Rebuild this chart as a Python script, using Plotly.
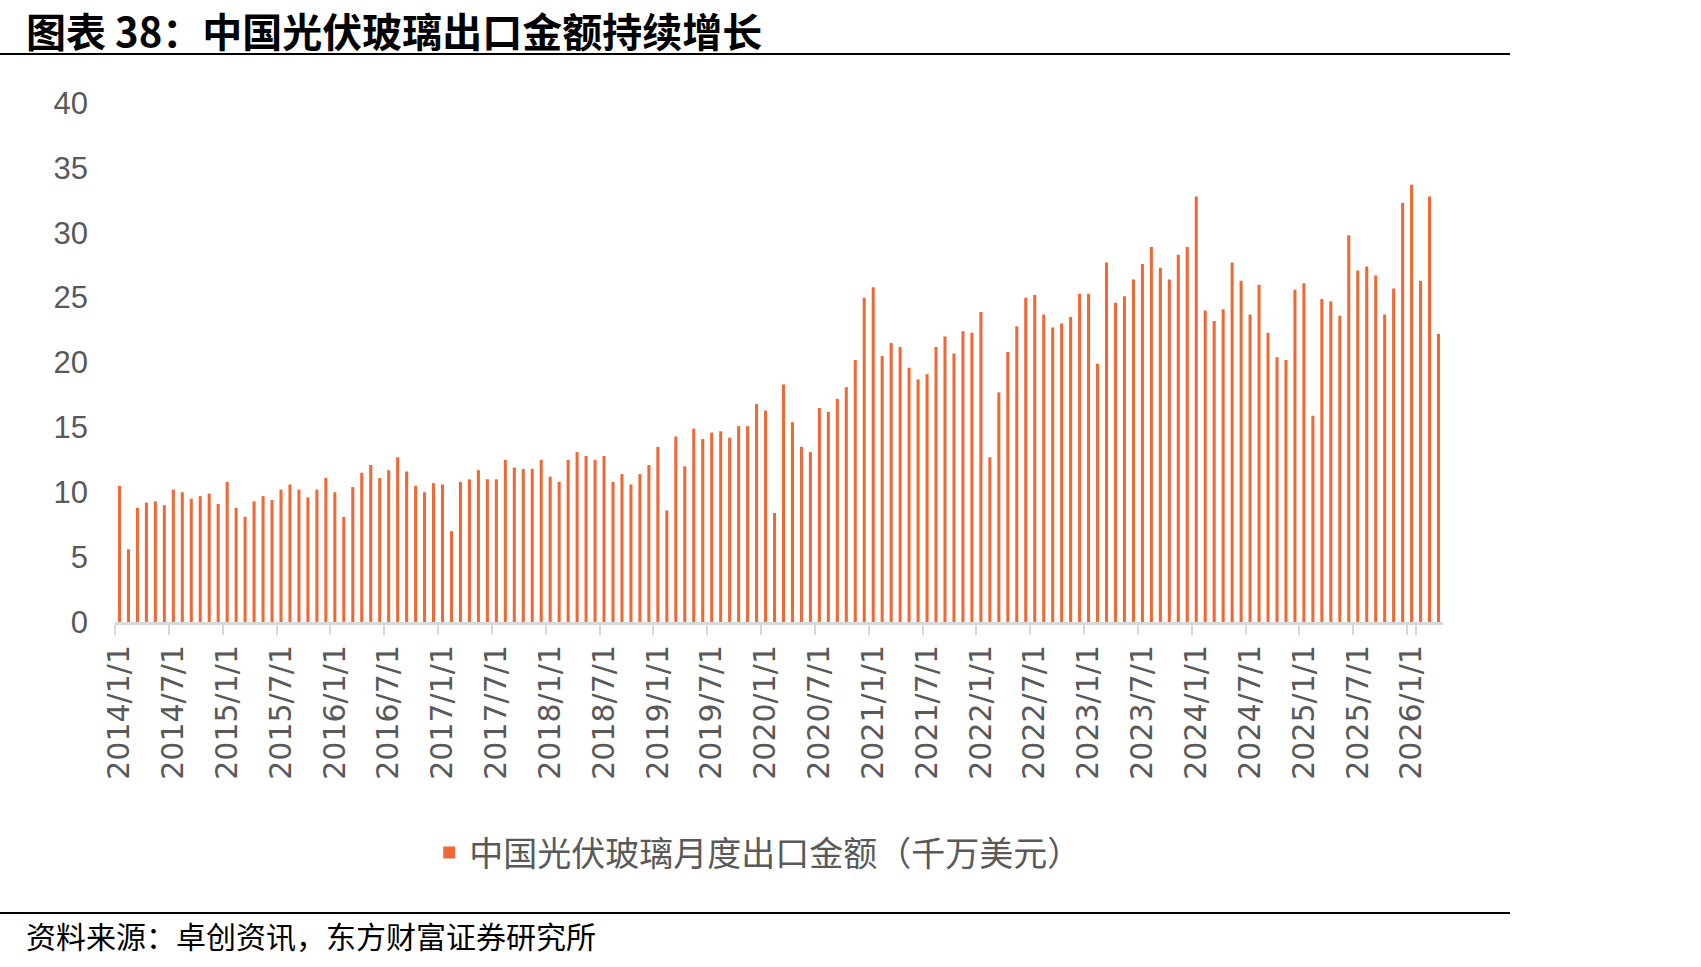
import plotly.graph_objects as go

years = list(range(2014, 2027))
months = [f"{y}/{m}/1" for y in years for m in range(1, 13)][:148]

v2014 = [10.5, 5.6, 8.8, 9.2, 9.3, 9.0, 10.2, 10.0, 9.5, 9.7, 9.9, 9.1]
v2015 = [10.8, 8.8, 8.1, 9.3, 9.7, 9.4, 10.2, 10.6, 10.2, 9.6, 10.2, 11.1]
v2016 = [10.0, 8.1, 10.4, 11.5, 12.1, 11.1, 11.7, 12.7, 11.6, 10.5, 10.0, 10.7]
v2017 = [10.6, 7.0, 10.8, 11.0, 11.7, 11.0, 11.0, 12.5, 11.9, 11.8, 11.8, 12.5]
v2018 = [11.2, 10.8, 12.5, 13.1, 12.8, 12.5, 12.8, 10.8, 11.4, 10.6, 11.4, 12.1]
v2019 = [13.5, 8.6, 14.3, 12.0, 14.9, 14.1, 14.6, 14.7, 14.2, 15.1, 15.1, 16.8]
v2020 = [16.3, 8.4, 18.3, 15.4, 13.5, 13.1, 16.5, 16.2, 17.2, 18.1, 20.2, 25.0]
v2021 = [25.8, 20.5, 21.5, 21.2, 19.6, 18.7, 19.1, 21.2, 22.0, 20.7, 22.4, 22.3]
v2022 = [23.9, 12.7, 17.7, 20.8, 22.8, 25.0, 25.2, 23.7, 22.7, 23.0, 23.5, 25.3]
v2023 = [25.3, 19.9, 27.7, 24.6, 25.1, 26.4, 27.6, 28.9, 27.3, 26.4, 28.3, 28.9]
v2024 = [32.8, 24.0, 23.2, 24.1, 27.7, 26.3, 23.7, 26.0, 22.3, 20.4, 20.2, 25.6]
v2025 = [26.1, 15.9, 24.9, 24.7, 23.6, 29.8, 27.1, 27.4, 26.7, 23.7, 25.7, 32.3]
v2026 = [33.7, 26.3, 32.8, 22.2]

values = (v2014 + v2015 + v2016 + v2017 + v2018 + v2019 + v2020 + v2021
          + v2022 + v2023 + v2024 + v2025 + v2026)

tick_labels = [m for m in months if m.split("/")[1] in ("1", "7")]

series_name = "中国光伏玻璃月度出口金额（千万美元）"
title_text = "图表 38：中国光伏玻璃出口金额持续增长"
source_text = "资料来源：卓创资讯，东方财富证券研究所"

ORANGE = "#EF6936"
GRAY_TXT = "#595959"
AXIS_GRAY = "#D9D9D9"

fig = go.Figure()
fig.add_trace(go.Bar(
    x=months, y=values, name=series_name,
    marker=dict(color=ORANGE, line=dict(width=0)),
    showlegend=True,
))

fig.update_layout(
    width=1701, height=967,
    margin=dict(l=115, r=258, t=103, b=345),
    paper_bgcolor="white", plot_bgcolor="white",
    bargap=0.66,
    showlegend=True,
    legend=dict(
        orientation="h", x=0.484, xanchor="center", y=-0.445, yanchor="middle",
        font=dict(family="Noto Sans CJK SC", size=34, color=GRAY_TXT),
        bgcolor="rgba(0,0,0,0)",
    ),
    xaxis=dict(
        type="category", categoryorder="array", categoryarray=months,
        tickmode="array", tickvals=tick_labels, ticktext=tick_labels,
        tickangle=-90, tickson="boundaries",
        ticks="outside", ticklen=10, tickwidth=2, tickcolor=AXIS_GRAY,
        showline=True, linecolor=AXIS_GRAY, linewidth=3,
        showgrid=False, zeroline=False, ticklabelstandoff=8,
        tickfont=dict(family="DejaVu Sans", size=30, color=GRAY_TXT),
        range=[-0.5, len(months) - 0.5],
    ),
    yaxis=dict(
        range=[0, 40], dtick=5, tick0=0,
        showgrid=False, zeroline=False, showline=False,
        ticks="", ticklabelstandoff=26,
        tickfont=dict(family="Liberation Sans, Arial", size=31, color=GRAY_TXT),
    ),
    annotations=[
        dict(text=title_text, xref="paper", yref="paper",
             x=-0.0685, y=1.1407, xanchor="left", yanchor="middle",
             showarrow=False,
             font=dict(family="Noto Sans CJK SC", size=40, color="black", weight="bold")),
        dict(text=source_text, xref="paper", yref="paper",
             x=-0.0685, y=-0.603, xanchor="left", yanchor="middle",
             showarrow=False,
             font=dict(family="Noto Sans CJK SC", size=30, color="black")),
    ],
    shapes=[
        dict(type="line", xref="paper", yref="paper", x0=-0.0866, x1=1.0505,
             y0=1.0944, y1=1.0944, line=dict(color="black", width=2)),
        dict(type="line", xref="paper", yref="paper", x0=-0.0866, x1=1.0505,
             y0=-0.5607, y1=-0.5607, line=dict(color="black", width=2)),
    ],
)

fig.write_html("out.html")
